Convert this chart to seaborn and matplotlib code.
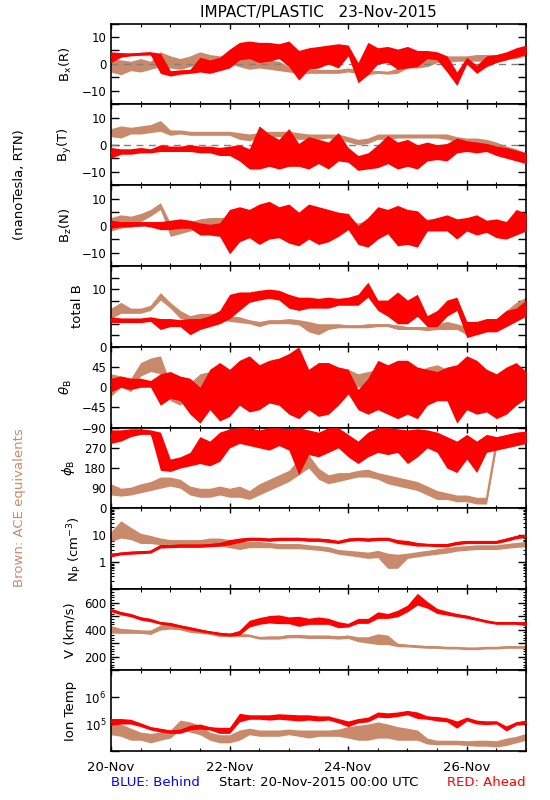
import numpy as np
import pandas as pd
import matplotlib
matplotlib.use("Agg")
import matplotlib.pyplot as plt
import matplotlib.ticker as mticker
import seaborn as sns

# === DATA: 4-hourly envelopes (lo / hi), 20-Nov 00:00 .. 27-Nov 00:00 ===
hours = np.arange(0, 169, 4)
days = hours / 24.0

day_ticks = [0, 2, 4, 6]
day_labels = ["20-Nov", "22-Nov", "24-Nov", "26-Nov"]

# Bx (R)
bx_red_lo = [0.5, 2.5, 3.0, 3.2, 3.3, -3.5, -4.5, -3.8, -3.5, -3.0, -3.5,
             -2.5, -1.5, 1.5, 2.0, 0.5, 1.0, 2.0, -1.0, -6.0, -2.0, -1.5,
             0.0, -1.5, 3.0, -7.0, -4.0, 0.0, 0.5, -2.0, -1.5, -1.0, 2.0,
             1.5, -3.0, -8.0, 0.0, -3.5, -1.0, 0.5, 1.5, 2.5, 3.5]
bx_red_hi = [4.5, 4.2, 4.0, 4.3, 4.5, 4.0, -2.5, -2.2, -2.0, 2.5, 1.5,
             2.5, 5.5, 8.0, 8.5, 8.0, 8.0, 7.5, 8.5, 5.0, 6.0, 6.5,
             7.0, 7.5, 7.0, 0.5, 8.0, 6.0, 6.5, 5.5, 6.5, 5.0, 5.0,
             4.5, 3.0, -3.0, 2.5, -0.5, 3.0, 3.5, 4.5, 6.0, 7.0]
bx_ace_lo = [-3, -4, -2.5, -3, -2, -1, -1.5, -2, -1, 0, -0.5,
             -1, 0, -1, -2, -1.5, -2, -2.5, -3, -3.5, -3.5, -3.5,
             -3.5, -3.5, -3.0, -3.5, -4.0, -3.5, -3.8, -3.5, -1.5, -1.5, -1.0,
             0.5, 0.5, 1.0, 1.0, 1.0, 1.0, 1.5, 2.0, 2.0, 3.0]
bx_ace_hi = [2, 1.5, 1, 2, 1, 4.5, 3, 2, 3, 4.5, 3.5,
             3, 3, 2.5, 2, 2, 1.5, 1, -1, -2, -2, -2,
             -2, -2, -1.5, -2, -2.5, -2.5, -2.8, -1.5, 1.5, 2.0, 2.0,
             2.5, 3.0, 3.0, 3.0, 3.5, 3.5, 3.5, 4.0, 4.0, 5.0]

# By (T)
by_red_lo = [-5, -3.5, -3.5, -3.0, -3.0, -2.5, -2.5, -2.5, -2.5, -3.0, -3.0,
             -4.0, -4.0, -6.0, -9.0, -9.0, -8.0, -9.0, -8.0, -8.0, -9.0, -7.0,
             -9.0, -6.0, -6.5, -9.5, -9.0, -8.5, -7.0, -9.0, -8.0, -9.0, -6.0,
             -5.5, -6.0, -3.0, -2.5, -3.0, -2.5, -4.0, -5.0, -6.0, -7.0]
by_red_hi = [-1, -1.5, -1.5, -1.0, -1.5, 0.0, -0.5, -0.5, 0.0, -0.5, -0.5,
             -1.0, -0.5, 0.0, -1.5, 7.0, 4.0, 2.0, 6.0, 0.5, 3.0, 2.0,
             1.0, 4.5, -1.0, -4.0, -3.0, 0.0, 3.5, 1.0, 2.0, 0.0, 1.0,
             0.0, 0.5, 2.5, 1.5, 1.0, 0.5, -0.5, -1.0, -2.0, -3.0]
by_ace_lo = [3, 2.5, 4, 4, 4.5, 5, 3.5, 4, 3.5, 3.5, 3.5,
             3.5, 3.5, 2.0, 1.5, 2.5, 3.0, 3.0, 2.5, 2.0, 2.0, 2.0,
             2.5, 2.0, 1.0, 0.0, 0.5, 2.0, 2.0, 2.5, 2.5, 2.5, 2.5,
             2.5, 2.0, 1.0, 0.5, 0.5, 0.0, -1.5, -3.0, -4.5, -6.0]
by_ace_hi = [6, 7, 6.5, 7, 7.5, 9, 5.5, 5.5, 5.0, 5.0, 5.0,
             5.0, 5.0, 4.5, 4.0, 4.5, 5.0, 5.0, 5.0, 4.5, 4.0, 4.0,
             4.0, 4.0, 3.0, 2.0, 2.5, 4.0, 4.0, 4.0, 4.0, 4.0, 4.0,
             4.0, 4.0, 3.0, 2.5, 2.5, 2.0, 1.0, -0.5, -1.5, -3.0]

# Bz (N)
bz_red_lo = [-1, -0.5, -0.5, 0.0, -0.5, -1.5, -1.5, -1.0, -1.0, -3.5, -3.5,
             -4.0, -10.5, -6.0, -4.5, -7.0, -5.0, -4.5, -6.5, -7.5, -5.0, -7.0,
             -6.0, -4.0, -1.5, -7.0, -8.0, -5.0, -3.0, -7.5, -7.0, -8.0, -2.0,
             -2.0, -2.0, -5.0, -2.0, -3.5, -2.5, -4.5, -5.0, -3.5, -2.0]
bz_red_hi = [2, 1.5, 1.5, 1.5, 1.5, 1.5, 2.0, 2.5, 2.0, 1.0, 0.5,
             1.0, 6.0, 7.0, 6.0, 8.0, 9.0, 7.0, 8.0, 5.0, 8.0, 7.0,
             6.0, 5.0, 4.5, 0.0, 3.0, 7.0, 6.0, 7.5, 6.0, 5.5, 2.0,
             3.0, 4.0, 2.5, 3.0, 4.0, 2.0, 2.5, 1.5, 6.0, 4.5]
bz_ace_lo = [-2, -1, 0, 1.5, 3.5, 6.0, -4, -3, -2, -1, -1,
             0, -1, -2, -1, -1, 0, -1, -2, -1, -1, -1,
             0, 0, 0, -1, -1, -1, 0, 0, 0, 0, 0.5,
             0, 0, 0, 0, -0.5, -2.0, -3.5, -3.5, -3.0, -1.0]
bz_ace_hi = [3, 4, 3.5, 4.5, 6.0, 8.5, 1, 1, 1.5, 2.5, 3.0,
             3.0, 3.0, 3.0, 2.5, 2.5, 3.0, 2.0, 1.0, 2.0, 2.0, 2.0,
             3.0, 2.5, 2.0, 1.0, 2.0, 2.0, 2.5, 2.0, 2.5, 2.5, 2.5,
             2.5, 2.0, 2.0, 2.0, 1.5, 1.0, 0, -0.5, 0.5, 2.0]

# total B
tb_red_lo = [4.2, 4.2, 4.2, 4.2, 4.4, 3.0, 3.5, 3.5, 2.1, 3.0, 3.5,
             4.0, 4.9, 6.3, 7.7, 8.1, 8.4, 8.1, 6.7, 6.3, 6.7, 6.7,
             6.7, 7.2, 7.2, 7.2, 8.6, 6.3, 5.3, 4.0, 4.0, 5.3, 3.5,
             3.5, 5.3, 6.3, 1.6, 2.1, 2.6, 2.6, 3.5, 4.4, 5.3]
tb_red_hi = [5.2, 5.0, 5.0, 5.0, 5.2, 4.9, 4.9, 4.7, 4.9, 4.9, 5.4,
             6.3, 9.1, 9.5, 9.5, 9.8, 10.0, 9.8, 9.1, 8.6, 8.6, 8.4,
             8.6, 8.4, 8.6, 9.1, 11.2, 8.1, 8.1, 9.5, 8.1, 9.1, 5.4,
             6.3, 8.1, 8.6, 4.4, 4.4, 4.9, 4.9, 6.3, 6.7, 8.1]
tb_ace_lo = [4.9, 5.8, 5.8, 5.8, 6.3, 8.1, 6.7, 4.9, 4.4, 4.9, 4.9,
             4.7, 4.4, 4.2, 4.0, 3.5, 4.0, 4.0, 4.0, 3.8, 2.6, 2.1,
             3.0, 3.3, 3.3, 3.3, 3.3, 3.5, 3.5, 3.0, 3.0, 3.0, 2.8,
             3.0, 3.0, 3.0, 2.1, 2.1, 2.6, 3.5, 4.4, 5.8, 7.2]
tb_ace_hi = [6.7, 7.7, 6.7, 6.7, 7.2, 9.4, 7.7, 6.3, 5.4, 5.8, 5.8,
             5.8, 5.4, 5.2, 4.7, 4.4, 4.7, 4.7, 4.9, 4.7, 4.4, 4.0,
             4.0, 4.0, 3.8, 3.8, 4.0, 4.0, 4.0, 3.8, 3.5, 3.5, 3.5,
             4.0, 4.4, 4.0, 3.5, 3.5, 4.0, 4.9, 6.3, 7.7, 8.6]

# theta_B
th_red_lo = [-10, 0, -5, 0, 0, -40, -25, -30, -60, -80, -50,
             -75, -65, -40, -55, -50, -35, -40, -60, -70, -50, -65,
             -60, -40, -15, -50, -60, -50, -60, -70, -60, -70, -40,
             -30, -30, -80, -50, -60, -55, -70, -60, -40, -25]
th_red_hi = [20, 25, 20, 20, 15, 30, 35, 25, 20, 0, 40,
             55, 40, 60, 70, 50, 60, 65, 75, 90, 40, 55,
             55, 45, 40, -5, 20, 60, 50, 60, 60, 45, 40,
             35, 45, 50, 70, 60, 40, 30, 45, 55, 35]
th_ace_lo = [-20, 0, -10, 25, 35, 30, -30, -40, -20, -10, -5,
             0, -5, -10, 0, 5, 0, -5, 0, -10, 0, 5,
             10, 15, 10, 0, 5, 10, 5, 10, 5, 0, 10,
             15, 5, 0, 15, 0, -20, -30, -20, -10, -5]
th_ace_hi = [30, 25, 20, 55, 65, 70, 10, 0, 10, 30, 35,
             40, 35, 30, 35, 40, 35, 30, 35, 30, 35, 35,
             40, 45, 40, 30, 35, 40, 35, 40, 40, 35, 45,
             50, 40, 35, 45, 40, 30, 20, 20, 25, 30]

# phi_B
ph_red_lo = [290, 300, 320, 330, 330, 170, 165, 180, 190, 200, 190,
             210, 270, 290, 280, 270, 260, 280, 260, 150, 240, 230,
             250, 270, 230, 200, 230, 250, 240, 250, 200, 230, 270,
             250, 180, 160, 220, 160, 250, 260, 270, 280, 290]
ph_red_hi = [350, 350, 355, 355, 350, 340, 220, 230, 250, 320, 300,
             340, 355, 360, 360, 350, 360, 360, 355, 360, 350, 340,
             360, 360, 330, 300, 340, 360, 360, 355, 350, 355, 350,
             340, 320, 300, 330, 300, 330, 320, 330, 340, 345]
ph_ace_lo = [60, 55, 60, 70, 80, 90, 100, 90, 60, 50, 50,
             60, 50, 50, 40, 60, 80, 100, 120, 150, 180, 130,
             110, 120, 130, 140, 140, 130, 110, 100, 90, 80, 60,
             40, 40, 30, 30, 20, 20, 270, 270, 280, 290]
ph_ace_hi = [110, 90, 95, 110, 120, 140, 140, 130, 100, 90, 90,
             100, 90, 100, 80, 110, 130, 150, 170, 220, 240, 180,
             150, 160, 160, 170, 175, 160, 150, 140, 130, 120, 100,
             80, 70, 60, 60, 50, 50, 310, 310, 320, 320]

# proton density (cm^-3)
np_red_lo = [1.6, 1.9, 2.0, 2.1, 2.2, 3.4, 3.5, 3.6, 3.6, 3.6, 3.8,
             4.0, 4.5, 5.5, 6.5, 6.5, 6.0, 6.5, 6.5, 6.5, 6.0, 6.0,
             5.5, 5.0, 6.0, 6.5, 6.0, 6.5, 6.5, 5.0, 4.5, 4.0, 4.0,
             3.8, 3.8, 4.5, 5.0, 5.0, 5.0, 5.0, 6.0, 7.5, 8.5]
np_red_hi = [2.2, 2.4, 2.6, 2.7, 2.8, 4.6, 4.6, 4.8, 4.8, 4.8, 5.0,
             5.5, 7.0, 8.0, 8.5, 8.5, 8.0, 8.5, 8.5, 8.5, 8.0, 8.0,
             7.5, 6.5, 8.0, 8.5, 8.0, 8.5, 8.5, 7.0, 6.5, 5.5, 5.0,
             5.0, 5.0, 6.0, 6.5, 6.5, 6.5, 6.5, 8.0, 10.0, 11.0]
np_ace_lo = [6, 8, 7, 5, 5, 4.5, 4, 4, 4, 4, 4,
             4, 3.5, 3, 3.5, 3.5, 3.5, 3.2, 3.2, 3.2, 3.0, 2.8,
             2.5, 2.0, 1.8, 1.6, 1.4, 1.5, 0.6, 0.6, 1.4, 1.6, 1.8,
             2.0, 2.2, 2.6, 2.8, 3.0, 3.0, 3.0, 3.3, 3.6, 3.8]
np_ace_hi = [14, 35, 20, 12, 10, 8, 7, 7, 7, 7, 8,
             8, 7, 6, 6, 6, 5.5, 5, 5, 5, 4.5, 4.2,
             3.8, 3.0, 2.8, 2.6, 2.4, 2.8, 2.2, 2.0, 2.2, 2.5, 2.8,
             3.2, 3.6, 4.0, 4.2, 4.5, 4.5, 4.5, 5.0, 5.5, 6.0]

# bulk speed (km/s)
v_red_lo = [533, 510, 496, 471, 459, 440, 430, 415, 398, 385, 373,
            360, 353, 360, 420, 440, 450, 445, 445, 425, 440, 440,
            440, 415, 420, 447, 447, 484, 484, 496, 533, 583, 560,
            520, 508, 496, 484, 469, 452, 440, 440, 440, 430]
v_red_hi = [558, 535, 520, 496, 484, 459, 454, 435, 422, 405, 390,
            380, 373, 395, 470, 490, 505, 510, 495, 500, 485, 495,
            485, 460, 447, 484, 484, 533, 520, 545, 583, 670, 610,
            558, 538, 520, 508, 489, 472, 459, 459, 459, 459]
v_ace_lo = [375, 373, 373, 373, 365, 398, 405, 398, 380, 373, 365,
            348, 348, 348, 348, 330, 330, 330, 340, 340, 335, 335,
            335, 330, 335, 311, 300, 290, 290, 274, 272, 267, 262,
            262, 257, 257, 252, 252, 257, 257, 262, 262, 262]
v_ace_hi = [430, 410, 405, 398, 398, 435, 440, 435, 415, 398, 390,
            378, 373, 373, 365, 348, 353, 353, 365, 365, 360, 360,
            360, 355, 360, 348, 348, 370, 360, 300, 291, 286, 281,
            279, 274, 274, 269, 269, 274, 274, 279, 279, 279]

# ion temperature (K)
t_red_lo = [90e3, 100e3, 100e3, 80e3, 60e3, 50e3, 45e3, 45e3, 60e3, 65e3, 60e3,
            45e3, 45e3, 120e3, 150e3, 150e3, 140e3, 150e3, 140e3, 130e3, 140e3, 130e3,
            140e3, 110e3, 80e3, 110e3, 120e3, 180e3, 170e3, 190e3, 220e3, 160e3, 150e3,
            130e3, 120e3, 70e3, 130e3, 100e3, 95e3, 100e3, 55e3, 90e3, 100e3]
t_red_hi = [160e3, 160e3, 150e3, 110e3, 80e3, 70e3, 60e3, 65e3, 90e3, 100e3, 80e3,
            75e3, 75e3, 250e3, 220e3, 220e3, 220e3, 240e3, 230e3, 220e3, 220e3, 200e3,
            200e3, 160e3, 130e3, 160e3, 180e3, 280e3, 260e3, 280e3, 320e3, 280e3, 200e3,
            190e3, 170e3, 130e3, 180e3, 140e3, 130e3, 130e3, 85e3, 120e3, 140e3]
t_ace_lo = [40e3, 35e3, 25e3, 25e3, 20e3, 25e3, 30e3, 60e3, 50e3, 40e3, 25e3,
            20e3, 20e3, 25e3, 40e3, 35e3, 35e3, 35e3, 40e3, 35e3, 30e3, 35e3,
            35e3, 35e3, 30e3, 25e3, 25e3, 30e3, 30e3, 25e3, 25e3, 25e3, 18e3,
            17e3, 17e3, 17e3, 16e3, 15e3, 15e3, 14e3, 16e3, 20e3, 25e3]
t_ace_hi = [140e3, 100e3, 70e3, 50e3, 45e3, 50e3, 60e3, 140e3, 120e3, 90e3, 50e3,
            40e3, 40e3, 60e3, 70e3, 60e3, 60e3, 60e3, 65e3, 60e3, 60e3, 60e3,
            60e3, 65e3, 80e3, 90e3, 100e3, 120e3, 100e3, 80e3, 70e3, 60e3, 30e3,
            25e3, 25e3, 25e3, 24e3, 25e3, 25e3, 24e3, 30e3, 35e3, 45e3]

RED = "#ff0000"
BROWN = "#c98a6c"


def envelope(ax, lo, hi, color, z):
    # seaborn aggregates lo/hi per time step; the 0-100 percentile band is the envelope
    df = pd.DataFrame({"day": np.concatenate([days, days]),
                       "val": np.concatenate([lo, hi])})
    sns.lineplot(data=df, x="day", y="val", ax=ax, color=color, linewidth=1.5,
                 errorbar=("pi", 100), zorder=z,
                 err_kws={"alpha": 1, "linewidth": 0, "zorder": z})


def main():
    plt.rcParams["font.family"] = ["DejaVu Sans"]
    plt.rcParams["font.size"] = 9
    plt.rcParams["axes.linewidth"] = 1.2
    plt.rcParams["mathtext.fontset"] = "dejavusans"

    b_ticks = ([-15, -10, -5, 0, 5, 10, 15], ["", "\u221210", "", "0", "", "10", ""])
    panels = [
        (r"$\mathregular{B_x(R)}$", bx_red_lo, bx_red_hi, bx_ace_lo, bx_ace_hi, (-15, 15), "linear", b_ticks, True),
        (r"$\mathregular{B_y(T)}$", by_red_lo, by_red_hi, by_ace_lo, by_ace_hi, (-15, 15), "linear", b_ticks, True),
        (r"$\mathregular{B_z(N)}$", bz_red_lo, bz_red_hi, bz_ace_lo, bz_ace_hi, (-15, 15), "linear", b_ticks, True),
        ("total B", tb_red_lo, tb_red_hi, tb_ace_lo, tb_ace_hi, (0, 14), "linear",
         ([0, 2, 4, 6, 8, 10, 12, 14], ["0", "", "", "", "", "10", "", ""]), False),
        (r"$\theta_\mathregular{B}$", th_red_lo, th_red_hi, th_ace_lo, th_ace_hi, (-90, 90), "linear",
         ([-90, -45, 0, 45, 90], ["\u221290", "\u221245", "0", "45", ""]), False),
        (r"$\phi_\mathregular{B}$", ph_red_lo, ph_red_hi, ph_ace_lo, ph_ace_hi, (0, 360), "linear",
         ([0, 90, 180, 270, 360], ["0", "90", "180", "270", ""]), False),
        (r"$\mathregular{N_P\ (cm^{-3})}$", np_red_lo, np_red_hi, np_ace_lo, np_ace_hi, (0.1, 100), "log",
         ([0.1, 1, 10, 100], ["", "1", "10", ""]), False),
        ("V (km/s)", v_red_lo, v_red_hi, v_ace_lo, v_ace_hi, (100, 700), "linear",
         ([100, 200, 300, 400, 500, 600, 700], ["", "200", "", "400", "", "600", ""]), False),
        ("Ion Temp", t_red_lo, t_red_hi, t_ace_lo, t_ace_hi, (1e4, 1e7), "log",
         ([1e4, 1e5, 1e6, 1e7], ["", r"$\mathregular{10^5}$", r"$\mathregular{10^6}$", ""]), False),
    ]

    fig, axes = plt.subplots(9, 1, figsize=(5.5, 8), dpi=100, sharex=True)
    fig.subplots_adjust(left=0.2018, right=0.9564, top=0.9706, bottom=0.0613, hspace=0)

    for ax, (label, r_lo, r_hi, a_lo, a_hi, ylim, scale, (ticks, tlabels), zero) in zip(axes, panels):
        ax.set_yscale(scale)
        envelope(ax, a_lo, a_hi, BROWN, 2)
        envelope(ax, r_lo, r_hi, RED, 3)
        if zero:
            ax.axhline(0, color="#808080", linewidth=1, linestyle=(0, (5, 4)), zorder=2.5)
        ax.set_ylim(*ylim)
        ax.set_xlim(0, 7)
        ax.yaxis.set_major_locator(mticker.FixedLocator(ticks))
        ax.yaxis.set_major_formatter(mticker.FixedFormatter(tlabels))
        if scale == "log" and ylim[0] > 0.5:
            ax.yaxis.set_minor_locator(mticker.NullLocator())
        elif scale == "linear" and label.startswith("V"):
            ax.yaxis.set_minor_locator(mticker.MultipleLocator(20))
        elif scale == "linear":
            ax.yaxis.set_minor_locator(mticker.NullLocator())
        ax.set_ylabel(label, fontsize=9.5, labelpad=5)
        ax.set_xlabel("")
        ax.tick_params(which="both", direction="in", top=True, right=True, labelsize=8.5)
        ax.yaxis.set_tick_params(which="major", length=5.5, width=1)
        ax.yaxis.set_tick_params(which="minor", length=2, width=0.8)
        ax.xaxis.set_tick_params(which="major", length=3.5, width=1, pad=7, labelsize=9.5)
        ax.xaxis.set_tick_params(which="minor", length=2, width=0.8)
        ax.xaxis.set_major_locator(mticker.FixedLocator(day_ticks))
        ax.xaxis.set_minor_locator(mticker.MultipleLocator(0.5))
        ax.xaxis.set_major_formatter(mticker.FixedFormatter(day_labels))
        for sp in ax.spines.values():
            sp.set_color("black")

    fig.text(318 / 550, 1 - 12 / 800, "IMPACT/PLASTIC   23-Nov-2015",
             ha="center", va="center", fontsize=11)
    fig.text(20 / 550, 1 - 185 / 800, "(nanoTesla, RTN)", rotation=90,
             ha="center", va="center", fontsize=9.5)
    fig.text(20 / 550, 1 - 508 / 800, "Brown: ACE equivalents", rotation=90,
             ha="center", va="center", fontsize=9.5, color=BROWN)
    fig.text(111 / 550, 1 - 782 / 800, "BLUE: Behind", color="blue",
             ha="left", va="center", fontsize=9.5)
    fig.text(319 / 550, 1 - 782 / 800, "Start: 20-Nov-2015 00:00 UTC",
             ha="center", va="center", fontsize=9.5)
    fig.text(526 / 550, 1 - 782 / 800, "RED: Ahead", color="red",
             ha="right", va="center", fontsize=9.5)

    fig.savefig("out.png", dpi=100)
    plt.close(fig)


if __name__ == "__main__":
    main()
